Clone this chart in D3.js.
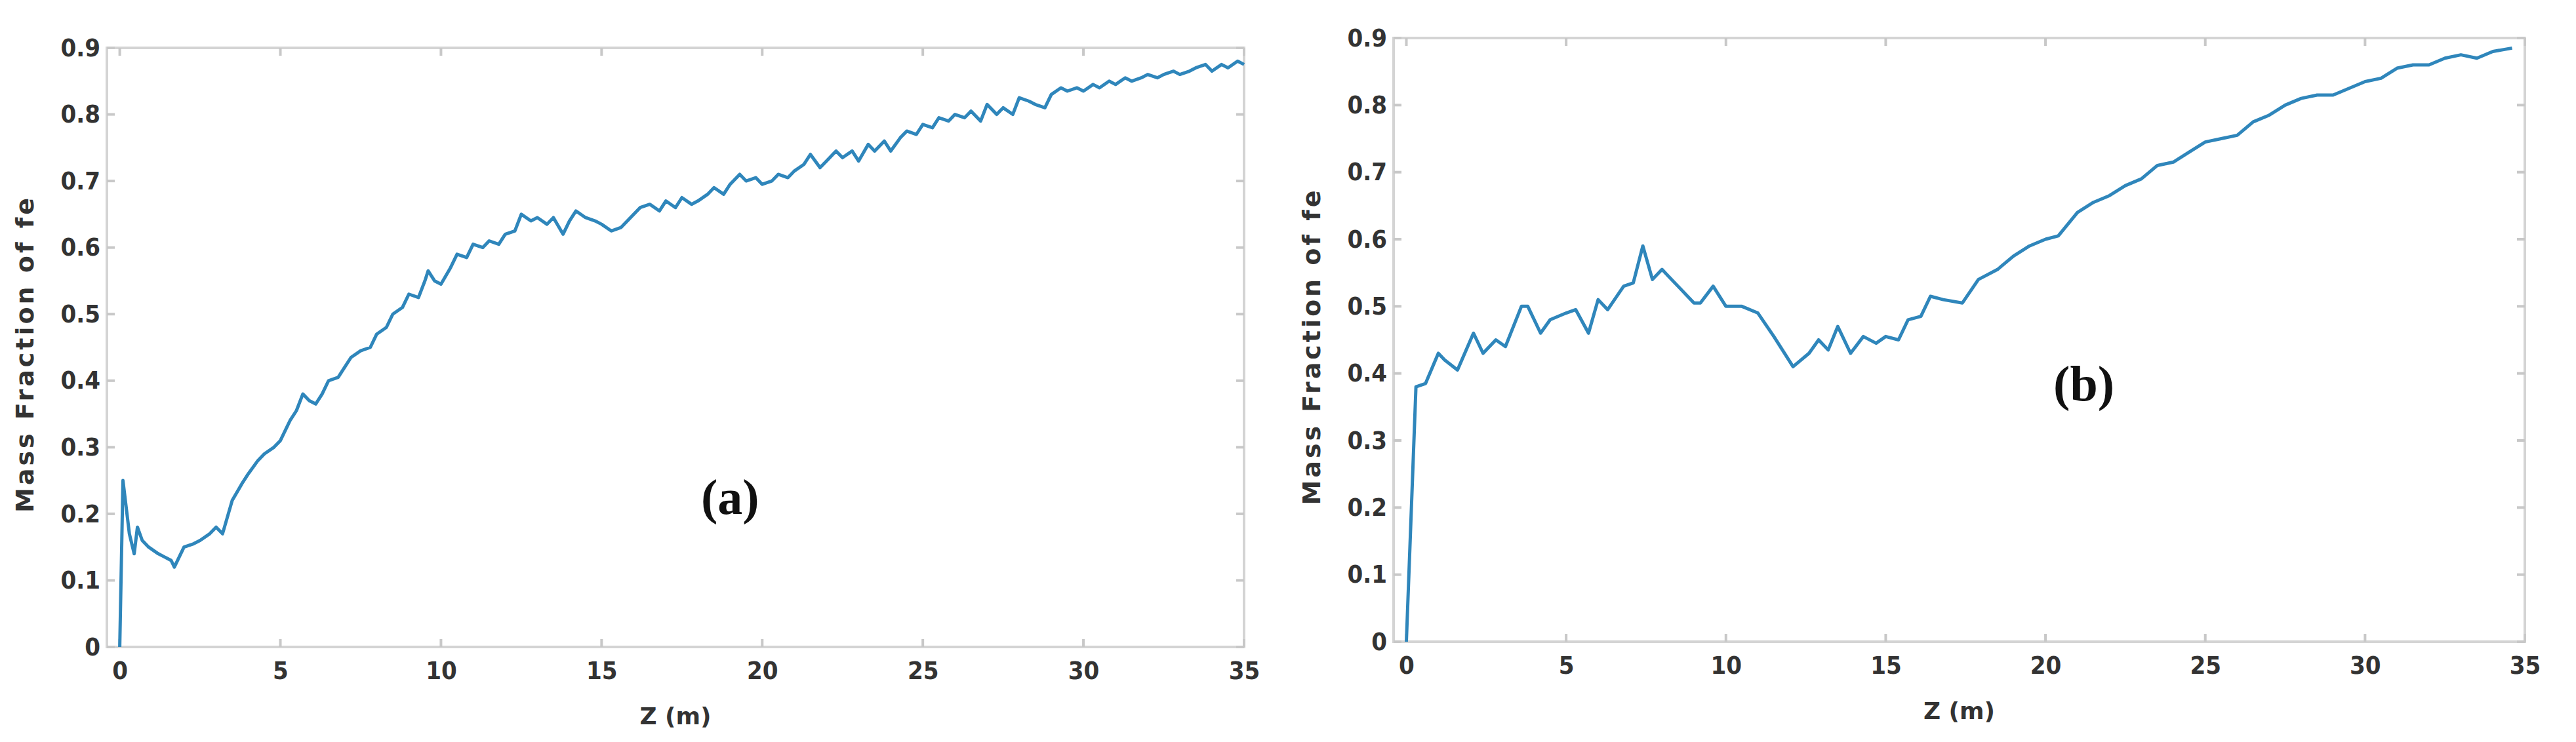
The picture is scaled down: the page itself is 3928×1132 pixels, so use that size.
<!DOCTYPE html>
<html>
<head>
<meta charset="utf-8">
<script src="https://cdn.jsdelivr.net/npm/d3@7"></script>
<style>
  body { margin: 0; background: #fff; }
  .tick text { font-family: "DejaVu Sans Condensed", "DejaVu Sans"; font-weight: bold; fill: #333; }
</style>
</head>
<body>
<svg id="chart" width="3928" height="1132"></svg>
<script>
// panel (a): Z (m) and mass fraction
const zA = [0,0.1,0.2,0.3,0.45,0.55,0.7,0.9,1.2,1.4,1.6,1.7,2.0,2.3,2.5,2.8,3.0,3.2,3.5,3.8,4.0,4.3,4.5,4.8,5.0,5.2,5.3,5.5,5.7,5.9,6.1,6.3,6.5,6.8,7.0,7.2,7.5,7.8,8.0,8.3,8.5,8.8,9.0,9.3,9.5,9.6,9.8,10.0,10.3,10.5,10.8,11.0,11.3,11.5,11.8,12.0,12.3,12.5,12.8,13.0,13.3,13.5,13.8,14.0,14.2,14.5,14.8,15.0,15.3,15.6,15.9,16.2,16.5,16.8,17.0,17.3,17.5,17.8,18.0,18.3,18.5,18.8,19.0,19.3,19.5,19.8,20.0,20.3,20.5,20.8,21.0,21.3,21.5,21.8,22.0,22.3,22.5,22.8,23.0,23.3,23.5,23.8,24.0,24.3,24.5,24.8,25.0,25.3,25.5,25.8,26.0,26.3,26.5,26.8,27.0,27.3,27.5,27.8,28.0,28.3,28.5,28.8,29.0,29.3,29.5,29.8,30.0,30.3,30.5,30.8,31.0,31.3,31.5,31.8,32.0,32.3,32.5,32.8,33.0,33.3,33.5,33.8,34.0,34.3,34.5,34.8,35.0];
const mfA = [0,0.25,0.21,0.17,0.14,0.18,0.16,0.15,0.14,0.135,0.13,0.12,0.15,0.155,0.16,0.17,0.18,0.17,0.22,0.245,0.26,0.28,0.29,0.3,0.31,0.33,0.34,0.355,0.38,0.37,0.365,0.38,0.40,0.405,0.42,0.435,0.445,0.45,0.47,0.48,0.50,0.51,0.53,0.525,0.55,0.565,0.55,0.545,0.57,0.59,0.585,0.605,0.60,0.61,0.605,0.62,0.625,0.65,0.64,0.645,0.635,0.645,0.62,0.64,0.655,0.645,0.64,0.635,0.625,0.63,0.645,0.66,0.665,0.655,0.67,0.66,0.675,0.665,0.67,0.68,0.69,0.68,0.695,0.71,0.70,0.705,0.695,0.70,0.71,0.705,0.715,0.725,0.74,0.72,0.73,0.745,0.735,0.745,0.73,0.755,0.745,0.76,0.745,0.765,0.775,0.77,0.785,0.78,0.795,0.79,0.80,0.795,0.805,0.79,0.815,0.80,0.81,0.80,0.825,0.82,0.815,0.81,0.83,0.84,0.835,0.84,0.835,0.845,0.84,0.85,0.845,0.855,0.85,0.855,0.86,0.855,0.86,0.865,0.86,0.865,0.87,0.875,0.865,0.875,0.87,0.88,0.875,0.875,0.88];
// panel (b)
const zB = [0,0.3,0.6,1.0,1.2,1.6,2.1,2.4,2.8,3.1,3.6,3.8,4.2,4.5,5.0,5.3,5.7,6.0,6.3,6.8,7.1,7.4,7.7,8.0,8.5,9.0,9.2,9.6,10.0,10.5,11.0,11.5,12.1,12.6,12.9,13.2,13.5,13.9,14.3,14.7,15.0,15.4,15.7,16.1,16.4,16.8,17.4,17.9,18.5,19.0,19.5,20.0,20.4,21.0,21.5,22.0,22.5,23.0,23.5,24.0,24.5,25.0,25.5,26.0,26.5,27.0,27.5,28.0,28.5,29.0,29.5,30.0,30.5,31.0,31.5,32.0,32.5,33.0,33.5,34.0,34.6];
const mfB = [0,0.38,0.385,0.43,0.42,0.405,0.46,0.43,0.45,0.44,0.50,0.50,0.46,0.48,0.49,0.495,0.46,0.51,0.495,0.53,0.535,0.59,0.54,0.555,0.53,0.505,0.505,0.53,0.50,0.50,0.49,0.455,0.41,0.43,0.45,0.435,0.47,0.43,0.455,0.445,0.455,0.45,0.48,0.485,0.515,0.51,0.505,0.54,0.555,0.575,0.59,0.60,0.605,0.64,0.655,0.665,0.68,0.69,0.71,0.715,0.73,0.745,0.75,0.755,0.775,0.785,0.80,0.81,0.815,0.815,0.825,0.835,0.84,0.855,0.86,0.86,0.87,0.875,0.87,0.88,0.885];
const xTicks = [0,5,10,15,20,25,30,35];
const yTicks = [0,0.1,0.2,0.3,0.4,0.5,0.6,0.7,0.8,0.9];

const svg = d3.select("#chart");

function panel(box, zs, mfs, tag, tagPos) {
    const x = d3.scaleLinear().domain([-0.4, 35]).range([box.left, box.right]);
    const y = d3.scaleLinear().domain([0, 0.9]).range([box.bottom, box.top]);
    const g = svg.append("g");

    g.append("rect")
        .attr("x", box.left).attr("y", box.top)
        .attr("width", box.right - box.left).attr("height", box.bottom - box.top)
        .attr("fill", "none").attr("stroke", "#d4d4d4").attr("stroke-width", 4);

    // inner tick marks on all four sides
    const tk = 12;
    g.selectAll(".xt").data(xTicks).join("line")
        .attr("x1", d => x(d)).attr("x2", d => x(d))
        .attr("y1", box.bottom).attr("y2", box.bottom - tk)
        .attr("stroke", "#c8c8c8").attr("stroke-width", 4);
    g.selectAll(".xt2").data(xTicks).join("line")
        .attr("x1", d => x(d)).attr("x2", d => x(d))
        .attr("y1", box.top).attr("y2", box.top + tk)
        .attr("stroke", "#c8c8c8").attr("stroke-width", 4);
    g.selectAll(".yt").data(yTicks).join("line")
        .attr("x1", box.left).attr("x2", box.left + tk)
        .attr("y1", d => y(d)).attr("y2", d => y(d))
        .attr("stroke", "#c8c8c8").attr("stroke-width", 4);
    g.selectAll(".yt2").data(yTicks).join("line")
        .attr("x1", box.right).attr("x2", box.right - tk)
        .attr("y1", d => y(d)).attr("y2", d => y(d))
        .attr("stroke", "#c8c8c8").attr("stroke-width", 4);

    g.append("g")
        .attr("transform", "translate(0," + box.bottom + ")")
        .call(d3.axisBottom(x).tickValues(xTicks).tickSize(0).tickPadding(22).tickFormat(d3.format("d")))
        .call(s => s.select(".domain").remove())
        .selectAll("text").attr("font-size", 38);

    g.append("g")
        .attr("transform", "translate(" + box.left + ",0)")
        .call(d3.axisLeft(y).tickValues(yTicks).tickSize(0).tickPadding(10).tickFormat(d => d === 0 ? "0" : d3.format(".1f")(d)))
        .call(s => s.select(".domain").remove())
        .selectAll("text").attr("font-size", 38);

    const line = d3.line()
        .x((d, i) => x(zs[i]))
        .y(d => y(d));

    g.append("path")
        .datum(mfs)
        .attr("fill", "none")
        .attr("stroke", "#2f86bb")
        .attr("stroke-width", 5)
        .attr("stroke-linejoin", "round")
        .attr("d", line);

    g.append("text")
        .attr("x", (box.left + box.right) / 2).attr("y", box.bottom + 118)
        .attr("text-anchor", "middle")
        .attr("font-family", "DejaVu Sans").attr("font-weight", "bold")
        .attr("font-size", 36).attr("fill", "#333")
        .text("Z (m)");

    g.append("text")
        .attr("transform", "translate(" + (box.left - 112) + "," + ((box.top + box.bottom) / 2 + 10) + ") rotate(-90)")
        .attr("text-anchor", "middle")
        .attr("font-family", "DejaVu Sans").attr("font-weight", "bold")
        .attr("font-size", 38).attr("letter-spacing", 4).attr("fill", "#333")
        .text("Mass Fraction of fe");

    g.append("text")
        .attr("x", x(tagPos[0])).attr("y", y(tagPos[1]))
        .attr("text-anchor", "middle")
        .attr("font-family", "Liberation Serif").attr("font-weight", "bold")
        .attr("font-size", 76).attr("fill", "#111")
        .text(tag);
}

panel({left: 163, right: 1897, top: 73, bottom: 987}, zA, mfA, "(a)", [19, 0.2]);
panel({left: 2125, right: 3850, top: 58, bottom: 979}, zB, mfB, "(b)", [21.2, 0.36]);
</script>
</body>
</html>
